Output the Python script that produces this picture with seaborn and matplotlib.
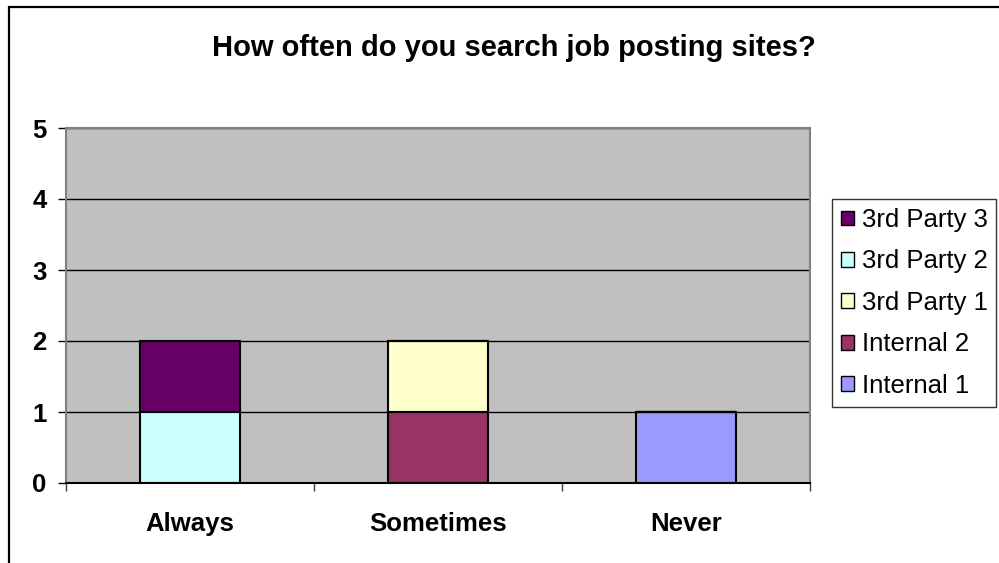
import matplotlib
matplotlib.use("Agg")
import matplotlib.pyplot as plt
from matplotlib.patches import Patch, Rectangle
import pandas as pd
import seaborn as sns

# Survey answers and how many respondents of each group gave them
frequencies = ["Always", "Sometimes", "Never"]
series = ["3rd Party 3", "3rd Party 2", "3rd Party 1", "Internal 2", "Internal 1"]
counts = {
    "3rd Party 3": [1, 0, 0],
    "3rd Party 2": [1, 0, 0],
    "3rd Party 1": [0, 1, 0],
    "Internal 2": [0, 1, 0],
    "Internal 1": [0, 0, 1],
}
colors = ["#660066", "#CCFFFF", "#FFFFCC", "#993366", "#9999FF"]
y_ticks = [0, 1, 2, 3, 4, 5]
title = "How often do you search job posting sites?"

rows = []
for s in series:
    for f, c in zip(frequencies, counts[s]):
        rows.append({"freq": f, "series": s, "count": c})
df = pd.DataFrame(rows)
df["freq"] = pd.Categorical(df["freq"], categories=frequencies, ordered=True)

sns.set_theme(style="white")
plt.rcParams["font.family"] = ["Liberation Sans", "DejaVu Sans"]
plt.rcParams["text.color"] = "black"
plt.rcParams["xtick.color"] = "black"
plt.rcParams["ytick.color"] = "black"
plt.rcParams["xtick.labelcolor"] = "black"
plt.rcParams["ytick.labelcolor"] = "black"

fig = plt.figure(figsize=(9.99, 5.63), dpi=100)
ax = fig.add_axes([66 / 999, 1 - 483 / 563, (810 - 66) / 999, (483 - 128) / 563])
ax.set_facecolor("#C0C0C0")

# Stacked bars: seaborn stacks the last hue level at the bottom
sns.histplot(
    data=df, x="freq", weights="count", hue="series", hue_order=series,
    multiple="stack", discrete=True, shrink=0.403, palette=colors,
    edgecolor="black", linewidth=1.5, alpha=1, legend=False, ax=ax,
)

ax.set_xlim(-0.5, len(frequencies) - 0.5)
ax.set_ylim(y_ticks[0], y_ticks[-1])
ax.set_yticks(y_ticks)
ax.set_yticklabels([str(v) for v in y_ticks], fontsize=18.5, fontweight="bold",
                   color="black")
ax.set_xticks(range(len(frequencies)))
ax.set_xticklabels(frequencies, fontsize=18.5, fontweight="bold", color="black")
ax.set_xticks([i - 0.5 for i in range(len(frequencies) + 1)], minor=True)
ax.set_xlabel("")
ax.set_ylabel("")

ax.yaxis.grid(True, color="black", linewidth=1)
ax.xaxis.grid(False)
ax.set_axisbelow(True)

ax.tick_params(axis="y", which="major", length=6, width=1, color="black",
               pad=8, left=True)
ax.tick_params(axis="x", which="major", length=0, pad=21)
ax.tick_params(axis="x", which="minor", length=6, width=1, color="#404040",
               bottom=True)

for name, sp in ax.spines.items():
    sp.set_visible(True)
    sp.set_color("#808080")
    sp.set_linewidth(1.5)
ax.spines["bottom"].set_color("black")

fig.text(514 / 999, 1 - 48 / 563, title, ha="center", va="center",
         fontsize=21, fontweight="bold", color="black")

handles = [Patch(facecolor=c, edgecolor="black", linewidth=1) for c in colors]
leg = fig.legend(
    handles, series, loc="upper left",
    bbox_to_anchor=(832 / 999, 1 - 199 / 563),
    fontsize=18.5, frameon=True, fancybox=False, borderpad=0.35,
    labelspacing=0.68, handlelength=0.5, handleheight=0.5,
    handletextpad=0.3, borderaxespad=0,
)
for t in leg.get_texts():
    t.set_color("black")
leg.get_frame().set_edgecolor("black")
leg.get_frame().set_linewidth(1)

# Outer chart frame (only left and top edges fall inside the canvas)
fig.patches.append(Rectangle((8.5 / 999, -0.5), 2, 1.5 - 7 / 563,
                             transform=fig.transFigure, fill=False,
                             edgecolor="black", linewidth=1.6))

fig.savefig("out.png", dpi=100)
